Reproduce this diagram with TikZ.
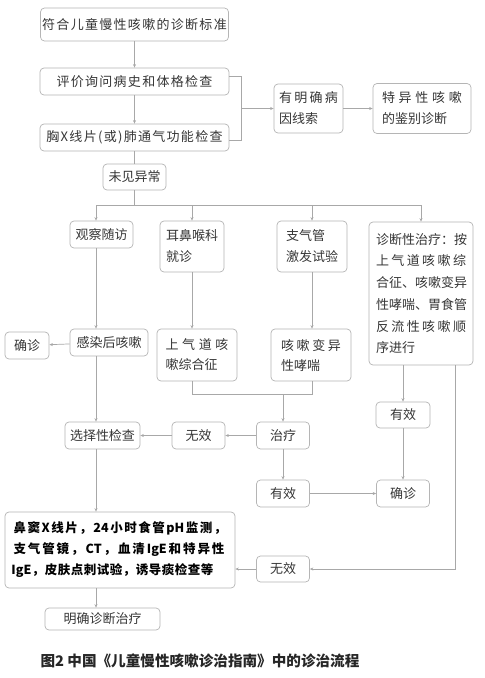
\documentclass[tikz,border=0pt]{standalone}
\usepackage{fontspec}
\newfontfamily\cjk{Noto Sans CJK SC}
\usetikzlibrary{arrows.meta}
\definecolor{boxgray}{HTML}{B5B5B5}
\definecolor{linegray}{HTML}{A8A8A8}
\definecolor{textgray}{HTML}{363636}
\def\gobbleone#1{}
\def\stopmark{\spreadstop}
\def\spreadchars#1{\spreadA#1\spreadstop}
\def\spreadA#1#2{#1\def\sptmp{#2}\ifx\sptmp\stopmark\expandafter\gobbleone\else\hfill\expandafter\spreadA\fi{#2}}
\newcommand\wideln{\addfontfeature{LetterSpace=10}}
\newcommand\spr[2]{\hbox to #1{\spreadchars{#2}}}
\tikzset{
  box/.style={draw=boxgray, rounded corners=4pt, line width=0.7pt, inner sep=0pt,
    font=\cjk\fontsize{13}{21}\selectfont, text=textgray, align=center},
  lbox/.style={box, align=left},
  conn/.style={draw=linegray, line width=0.7pt},
  arr/.style={conn, -{Stealth[length=3.5pt,width=3pt]}},
}
\begin{document}
\begin{tikzpicture}[x=1pt,y=-1pt]
\fill[white] (0,0) rectangle (485,678);
\useasboundingbox (0,0) rectangle (485,678);
% top column
\node[box, minimum width=188pt, minimum height=33pt] (b1) at (134.5,24.5) {\wideln 符合儿童慢性咳嗽的诊断标准};
\node[box, minimum width=189pt, minimum height=27pt] (b2) at (134.5,81.5) {\wideln 评价询问病史和体格检查};
\node[box, minimum width=189pt, minimum height=27pt] (b3) at (134.5,137.5) {\wideln 胸X线片(或)肺通气功能检查};
\node[box, minimum width=63pt, minimum height=26pt] (n0) at (134.5,177) {未见异常};
\node[lbox, minimum width=69pt, minimum height=49pt] (c1) at (308.5,108.5) {\spr{59pt}{有明确病}\\因线索};
\node[lbox, minimum width=98pt, minimum height=50pt] (c2) at (422,108.5) {\spr{80pt}{特异性咳嗽}\\的鉴别诊断};
% second level
\node[box, minimum width=63pt, minimum height=27pt] (d1) at (101.5,234.5) {观察随访};
\node[lbox, minimum width=64pt, minimum height=51pt] (d2) at (192,246.5) {耳鼻喉科\\就诊};
\node[lbox, minimum width=70pt, minimum height=51pt] (d3) at (312,246.5) {支气管\\激发试验};
\node[lbox, minimum width=104pt, minimum height=143pt, font=\cjk\fontsize{13}{21.7}\selectfont] (d4) at (421,293.5)
  {\spr{90pt}{诊断性治疗：按}\\\spr{90pt}{上气道咳嗽综}\\\spr{90pt}{合征、咳嗽变异}\\\spr{90pt}{性哮喘、胃食管}\\\spr{90pt}{反流性咳嗽顺}\\序进行};
% third level
\node[box, minimum width=44pt, minimum height=27pt] (e0) at (27,345.5) {确诊};
\node[box, minimum width=78pt, minimum height=27pt] (e1) at (109,342.5) {感染后咳嗽};
\node[lbox, minimum width=80pt, minimum height=52pt, font=\cjk\fontsize{13}{20}\selectfont] (e2) at (197,355) {\spr{63pt}{上气道咳}\\嗽综合征};
\node[lbox, minimum width=80pt, minimum height=52pt, font=\cjk\fontsize{13}{20}\selectfont] (e3) at (311,355) {\spr{60pt}{咳嗽变异}\\性哮喘};
% treatment row
\node[box, minimum width=75pt, minimum height=27pt] (f1) at (102.5,435.5) {选择性检查};
\node[box, minimum width=53pt, minimum height=27pt] (f2) at (198.5,435.5) {无效};
\node[box, minimum width=53pt, minimum height=27pt] (f3) at (283,435.5) {治疗};
\node[box, minimum width=54pt, minimum height=26pt] (g1) at (403,415) {有效};
\node[box, minimum width=53pt, minimum height=27pt] (h1) at (283,493.5) {有效};
\node[box, minimum width=53pt, minimum height=27pt] (h2) at (403,493.5) {确诊};
\node[lbox, minimum width=230pt, minimum height=76pt, text=black, font=\cjk\bfseries\fontsize{12.5}{21}\selectfont] (i0) at (120,550)
  {\spr{213pt}{鼻窦X线片，{24}小时食管{pH}监测，}\\\spr{211pt}{支气管镜，{CT}，血清{IgE}和特异性}\\\hspace*{-2pt}\spr{202pt}{{IgE}，皮肤点刺试验，诱导痰检查等}};
\node[box, minimum width=53pt, minimum height=26pt] (i1) at (283,569) {无效};
\node[box, minimum width=115pt, minimum height=22pt] (j) at (102.5,619) {明确诊断治疗};
\node[font=\cjk\bfseries\fontsize{14.6}{16}\selectfont, text=black!85] (cap) at (200,661) {图2 中国《儿童慢性咳嗽诊治指南》中的诊治流程};
% connectors
\coordinate (k1) at (241,76);
\coordinate (k2) at (241,140);
\coordinate (s0) at (134.5,205);
\coordinate (sx1) at (96,205);
\coordinate (sx4) at (421,205);
\coordinate (m) at (283,394);
\coordinate (r) at (455,569);
\draw[arr] (b1) -- (b2);
\draw[arr] (b2) -- (b3);
\draw[conn] (b3) -- (n0);
\draw[conn] (b2.east |- k1) -- (k1) -- (k2) -- (b3.east |- k2);
\draw[arr] (k1 |- c1) -- (c1);
\draw[arr] (c1) -- (c2);
\draw[conn] (n0) -- (s0);
\draw[conn] (sx1) -- (sx4);
\draw[arr] (sx1) -- (sx1 |- d1.north);
\draw[arr] (d2.north |- s0) -- (d2.north);
\draw[arr] (d3.north |- s0) -- (d3.north);
\draw[arr] (sx4) -- (d4.north);
\draw[arr] (sx1 |- d1.south) -- (sx1 |- e1.north);
\draw[arr] (e1) -- (e0);
\draw[arr] (d2.south) -- (d2.south |- e2.north);
\draw[arr] (d3.south) -- (d3.south |- e3.north);
\draw[conn] (d2.south |- e2.south) -- (d2.south |- m) -- (d3.south |- m) -- (d3.south |- e3.south);
\draw[arr] (m) -- (f3.north);
\draw[arr] (f3) -- (f2);
\draw[arr] (f2) -- (f1);
\draw[arr] (sx1 |- e1.south) -- (sx1 |- f1.north);
\draw[arr] (f3) -- (h1);
\draw[arr] (h1) -- (h2);
\draw[arr] (g1.north |- d4.south) -- (g1.north);
\draw[arr] (g1) -- (h2);
\draw[arr] (r |- d4.south) -- (r) -- (i1.east);
\draw[arr] (i1.west) -- (i1.west -| i0.east);
\draw[arr] (sx1 |- f1.south) -- (sx1 |- i0.north);
\draw[arr] (sx1 |- i0.south) -- (sx1 |- j.north);
\end{tikzpicture}
\end{document}
